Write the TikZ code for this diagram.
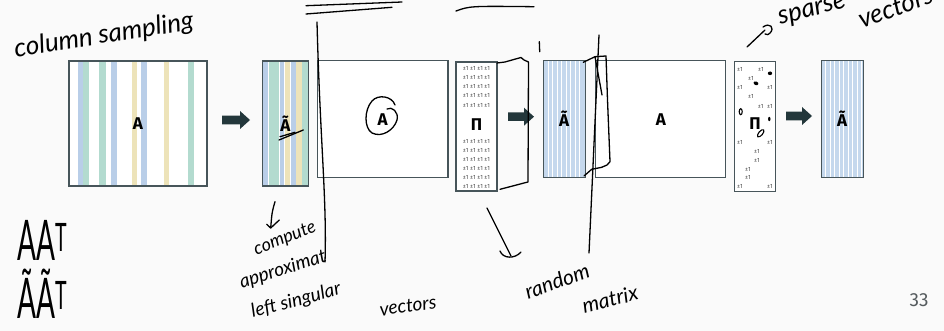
\documentclass[tikz,border=0pt]{standalone}
\usepackage{fontspec}
\setmainfont{Fira Sans}
\newfontfamily\hand{Lato}
\definecolor{bg}{HTML}{FAFAFA}
\definecolor{frame}{HTML}{47555A}
\definecolor{arr}{HTML}{23373B}
\definecolor{sb}{HTML}{B9CEE8}
\definecolor{st}{HTML}{B3DBCF}
\definecolor{sy}{HTML}{EDE3B9}
\definecolor{tb}{HTML}{C5D8ED}
\definecolor{pmgray}{HTML}{4A4A4A}
\definecolor{pgnum}{HTML}{555B5E}
\tikzset{
  matbox/.style={draw=frame, line width=1.1pt, inner sep=0pt, outer sep=0pt, font=\bfseries\fontsize{17}{17}\selectfont},
  pmrow/.style={inner sep=0pt, text=pmgray, font=\fontsize{6}{6}\selectfont},
  hw/.style={line width=1.3pt, black, line cap=round, line join=round},
  handtext/.style={inner sep=0pt, font=\hand\itshape\fontsize{#1}{#1}\selectfont},
  blockarrow/.style={fill=arr, draw=none},
}
\begin{document}
\begin{tikzpicture}[x=1pt,y=-1pt]
\useasboundingbox (0,0) rectangle (944,331);
\clip (0,0) rectangle (944,331);
\fill[bg] (0,0) rectangle (944,331);

% ---------- Box 1: A with sampled columns ----------
\fill[white] (69,61) rectangle (207,186);
\foreach \a/\b/\c in {78/83.3/sb, 83.3/89/st, 99.3/105.7/st, 111/116.7/sb, 132.3/137.3/sy, 140.7/146.7/sb, 164/169.3/sy, 188/193.7/st}
  \fill[\c] (\a,61) rectangle (\b,186);
\node[matbox, minimum width=138pt, minimum height=125pt] (A1) at (138,123.5) {A};

% arrow 1
\fill[blockarrow] (222,115.7) -- (240,115.7) -- (240,111) -- (250,120) -- (240,129) -- (240,124.3) -- (222,124.3) -- cycle;

% ---------- Box 2: small A tilde ----------
\fill[white] (262.3,61) rectangle (308.3,186);
\foreach \a/\b/\c in {263.3/268.3/sb, 269/273.7/st, 274.3/279/st, 279.7/284.3/sb, 285/290.3/sy, 291/295.7/sb, 296.3/301.7/sy, 302.3/307.7/st}
  \fill[\c] (\a,61) rectangle (\b,186);
\node[matbox, minimum width=46pt, minimum height=125pt] (At1) at (285.3,123.5) {Ã};

% ---------- Box 3: A (big) ----------
\node[matbox, fill=white, minimum width=130.7pt, minimum height=117pt] (A2) at (382.6,119.2) {A};

% ---------- Box 4: dense Pi ----------
\node[matbox, fill=white, minimum width=41pt, minimum height=129pt] (P1) at (476.5,126.5) {};
\foreach \y in {68.3,77.3,86.5,95.8,105.1,141.3,150.3,159.3,168.3,177.3,186.3}
  \node[pmrow] at (476.5,\y) {±1 ±1 ±1 ±1};
\node[inner sep=0pt, font=\bfseries\fontsize{17}{17}\selectfont] (P1l) at (476.5,124.7) {Π};

% arrow 2
\fill[blockarrow] (508,112.4) -- (524,112.4) -- (524,107.7) -- (534,116.7) -- (524,125.7) -- (524,121) -- (508,121) -- cycle;

% ---------- Box 5: A tilde (blue) ----------
\fill[tb] (543.3,60.5) rectangle (585,177.7);
\foreach \x in {547.8,552.3,556.8,561.3,565.8,570.3,574.8,579.3}
  \draw[white, line width=0.5pt] (\x,60.5) -- (\x,177.7);
\node[matbox, minimum width=41.7pt, minimum height=117.2pt] (At2) at (564.2,119.1) {Ã};

% ---------- Box 6: A ----------
\node[matbox, fill=white, minimum width=130pt, minimum height=117pt] (A3) at (660.8,119.2) {A};

% ---------- Box 7: sparse Pi ----------
\node[matbox, fill=white, minimum width=41.7pt, minimum height=130pt] (P2) at (754.9,126.2) {};
\foreach \x/\y in {740/69, 761/69, 751/78, 740/87, 770/87, 751/96.7, 760.7/106, 770/106, 740/142, 770/142, 757/151, 757/160, 748/169, 748/177.7, 740/186.7, 770/186.7}
  \node[pmrow] at (\x,\y) {±1};
\node[inner sep=0pt, font=\bfseries\fontsize{17}{17}\selectfont] (P2l) at (755,124) {Π};

% arrow 3
\fill[blockarrow] (786,111.7) -- (802,111.7) -- (802,107) -- (812,116) -- (802,125) -- (802,120.3) -- (786,120.3) -- cycle;

% ---------- Box 8: final A tilde ----------
\fill[tb] (821,60.5) rectangle (863.3,177.7);
\foreach \x in {825.5,830,834.5,839,843.5,848,852.5,857,861.5}
  \draw[white, line width=0.5pt] (\x,60.5) -- (\x,177.7);
\node[matbox, minimum width=42.3pt, minimum height=117.2pt] (At3) at (842.2,119.1) {Ã};

% page number
\node[inner sep=0pt, text=pgnum, font=\fontsize{19}{19}\selectfont] (pg) at (919,300) {33};

% ================= handwritten annotations =================
\node[handtext=26, rotate=9] (cs) at (104,36) {column sampling};

% marks on Atilde
\draw[hw] (279,140) -- (303.3,130);
\draw[hw] (280,136.7) -- (295,132.3);

% arrow below Atilde
\draw[hw] (275,201.7) .. controls (272,212) .. (270.7,228);
\draw[hw] (266.7,224.3) -- (270.7,228) -- (279.3,220);
\node[handtext=18, rotate=22] (t1) at (285,239) {compute};
\node[handtext=19, rotate=18] (t2) at (283,270) {approximat};
\node[handtext=19, rotate=15] (t3) at (296,301) {left singular};
\node[handtext=19, rotate=8] (t4) at (408,306) {vectors};

% top lines
\draw[hw] (306,5.7) -- (402,2);
\draw[hw] (306,14) -- (392,7.3);
\draw[hw] (456,11) .. controls (470,6) .. (534,6.7);
\draw[hw] (539.3,41.7) -- (539.7,51.7);

% long vertical lines
\draw[hw] (317,22) .. controls (320,140) and (327,200) .. (325,262);
\draw[hw] (599,35) -- (589,253);

% circle round A
\draw[hw] (395,105) .. controls (392,96) and (378,94) .. (372,101) .. controls (364,110) and (364,128) .. (372,133) .. controls (382,138) and (394,130) .. (397,120) .. controls (399,112) and (392,106) .. (387,109);

% bracket round dense Pi
\draw[hw] (497,63) -- (505,62) .. controls (512,60) .. (521,57.5) -- (524,60) -- (528.5,62) -- (528,182) -- (524,183) -- (510,186.7) -- (500,189.3);

% loop over Atilde / A boundary
\draw[hw] (583.3,62.3) -- (595,56.7) -- (606,56) -- (607.5,100) -- (610,161.7) -- (607,165) -- (601.7,167.3) -- (591.7,169.3) -- (584,176);
\draw[hw] (595,56.7) -- (602,95);

% arrow to random matrix
\draw[hw] (487,208) -- (511,256);
\draw[hw] (500,251) .. controls (503,259) and (515,259) .. (521,252);
\node[handtext=21, rotate=20] (t5) at (557,281) {random};
\node[handtext=21, rotate=14] (t6) at (610,299) {matrix};

% blobs on sparse Pi
\fill[black] (770,73.3) ellipse (2.2pt and 1.8pt);
\fill[black, rotate around={-20:(756,83.3)}] (756,83.3) ellipse (2.5pt and 1.8pt);
\draw[line width=1.1pt] (740.7,111.7) ellipse (1.5pt and 3pt);
\fill[black] (769.3,119) ellipse (1.2pt and 2.2pt);
\draw[line width=1.1pt, rotate around={50:(760.7,133.3)}] (760.7,133.3) ellipse (4.5pt and 2pt);

% sparse vectors note
\draw[hw] (747,47) -- (765,30);
\draw[hw] (763,27) .. controls (770,22) and (775,28) .. (770,33) .. controls (768,35) .. (765,34);
\node[handtext=26, rotate=15, anchor=base west] (t7) at (780,25) {sparse};
\node[handtext=26, rotate=20, anchor=base west] (t8) at (862,29) {vectors};

% A A^T notes
\node[inner sep=0pt, xscale=0.5, font=\hand\fontsize{56}{56}\selectfont] (aat) at (42,240) {AA\textsuperscript{T}};
\node[inner sep=0pt, xscale=0.5, font=\hand\fontsize{56}{56}\selectfont] (tat) at (42,294) {ÃÃ\textsuperscript{T}};
\end{tikzpicture}
\end{document}
